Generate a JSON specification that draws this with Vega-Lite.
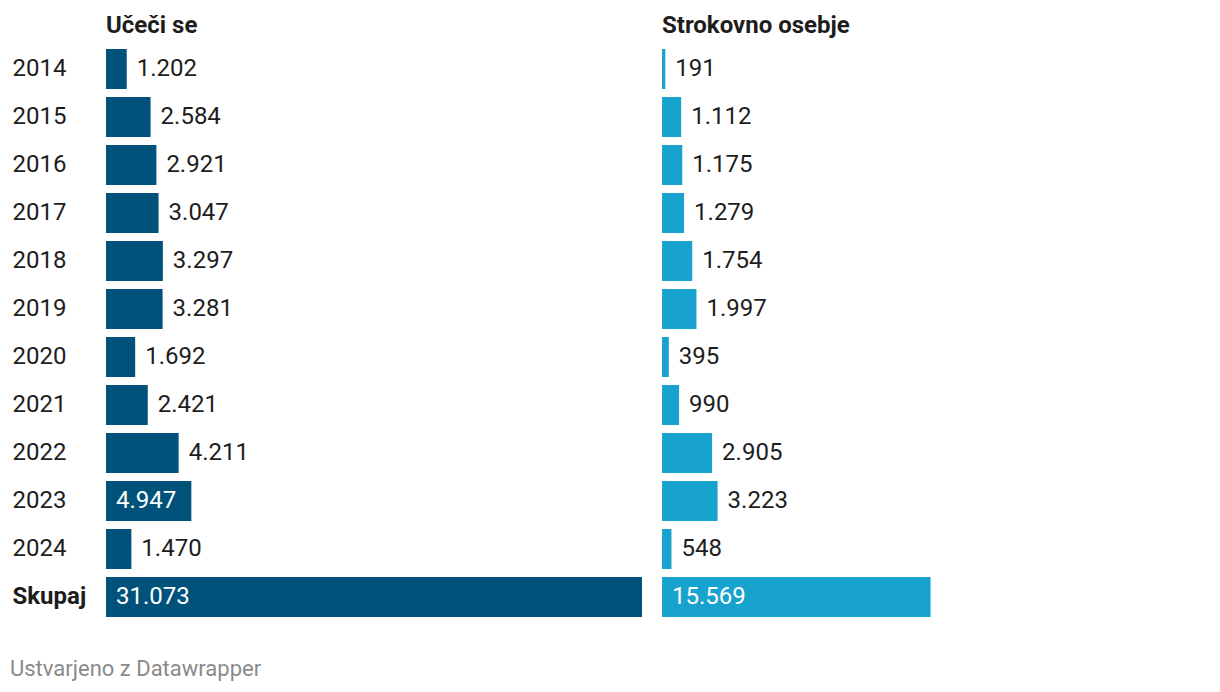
{
  "$schema": "https://vega.github.io/schema/vega-lite/v6.json",
  "padding": {"left": 10, "top": 14, "right": 10, "bottom": 10},
  "config": {
    "locale": {"number": {"decimal": ",", "thousands": ".", "grouping": [3], "currency": ["", " €"]}},
    "view": {"stroke": null},
    "font": "Roboto"
  },
  "title": {"text": "Ustvarjeno z Datawrapper", "orient": "bottom", "anchor": "start", "fontSize": 22, "fontWeight": "normal", "color": "#8a8a8a", "offset": 38, "dx": -2, "font": "Roboto"},
  "data": {"values": [
    {"skupina": "Učeči se", "leto": "2014", "vrednost": 1202},
    {"skupina": "Učeči se", "leto": "2015", "vrednost": 2584},
    {"skupina": "Učeči se", "leto": "2016", "vrednost": 2921},
    {"skupina": "Učeči se", "leto": "2017", "vrednost": 3047},
    {"skupina": "Učeči se", "leto": "2018", "vrednost": 3297},
    {"skupina": "Učeči se", "leto": "2019", "vrednost": 3281},
    {"skupina": "Učeči se", "leto": "2020", "vrednost": 1692},
    {"skupina": "Učeči se", "leto": "2021", "vrednost": 2421},
    {"skupina": "Učeči se", "leto": "2022", "vrednost": 4211},
    {"skupina": "Učeči se", "leto": "2023", "vrednost": 4947},
    {"skupina": "Učeči se", "leto": "2024", "vrednost": 1470},
    {"skupina": "Učeči se", "leto": "Skupaj", "vrednost": 31073},
    {"skupina": "Strokovno osebje", "leto": "2014", "vrednost": 191},
    {"skupina": "Strokovno osebje", "leto": "2015", "vrednost": 1112},
    {"skupina": "Strokovno osebje", "leto": "2016", "vrednost": 1175},
    {"skupina": "Strokovno osebje", "leto": "2017", "vrednost": 1279},
    {"skupina": "Strokovno osebje", "leto": "2018", "vrednost": 1754},
    {"skupina": "Strokovno osebje", "leto": "2019", "vrednost": 1997},
    {"skupina": "Strokovno osebje", "leto": "2020", "vrednost": 395},
    {"skupina": "Strokovno osebje", "leto": "2021", "vrednost": 990},
    {"skupina": "Strokovno osebje", "leto": "2022", "vrednost": 2905},
    {"skupina": "Strokovno osebje", "leto": "2023", "vrednost": 3223},
    {"skupina": "Strokovno osebje", "leto": "2024", "vrednost": 548},
    {"skupina": "Strokovno osebje", "leto": "Skupaj", "vrednost": 15569}
  ]},
  "facet": {
    "column": {
      "field": "skupina", "type": "nominal",
      "sort": ["Učeči se", "Strokovno osebje"],
      "header": {"title": null, "labelAnchor": "start", "labelFontSize": 24, "labelFontWeight": "bold", "labelColor": "#1d1d1d", "labelPadding": 7, "labelFont": "Roboto"}
    }
  },
  "spacing": 20,
  "spec": {
    "width": 536,
    "height": 576,
    "encoding": {
      "y": {
        "field": "leto", "type": "nominal",
        "sort": ["2014", "2015", "2016", "2017", "2018", "2019", "2020", "2021", "2022", "2023", "2024", "Skupaj"],
        "scale": {"paddingInner": 0.1667, "paddingOuter": 0.0833},
        "axis": {
          "title": null, "domain": false, "ticks": false, "tickSize": 0,
          "labelAlign": "left", "labelPadding": 94, "labelFontSize": 24, "labelColor": "#1d1d1d", "labelFont": "Roboto",
          "labelFontWeight": {"condition": {"test": "datum.value === 'Skupaj'", "value": "bold"}, "value": "normal"}
        }
      }
    },
    "layer": [
      {
        "mark": {"type": "bar"},
        "encoding": {
          "x": {"field": "vrednost", "type": "quantitative", "scale": {"domain": [0, 31073], "nice": false, "zero": true}, "axis": null},
          "color": {"field": "skupina", "type": "nominal", "scale": {"domain": ["Učeči se", "Strokovno osebje"], "range": ["#00527b", "#18a3cf"]}, "legend": null}
        }
      },
      {
        "transform": [{"filter": "datum.vrednost < 4500"}],
        "mark": {"type": "text", "align": "left", "baseline": "middle", "dx": 10, "fontSize": 24, "color": "#1d1d1d", "font": "Roboto"},
        "encoding": {
          "x": {"field": "vrednost", "type": "quantitative"},
          "text": {"field": "vrednost", "type": "quantitative", "format": ",d"}
        }
      },
      {
        "transform": [{"filter": "datum.vrednost >= 4500"}],
        "mark": {"type": "text", "align": "left", "baseline": "middle", "dx": 10, "fontSize": 24, "color": "#ffffff", "font": "Roboto"},
        "encoding": {
          "x": {"datum": 0, "type": "quantitative"},
          "text": {"field": "vrednost", "type": "quantitative", "format": ",d"}
        }
      }
    ]
  }
}
